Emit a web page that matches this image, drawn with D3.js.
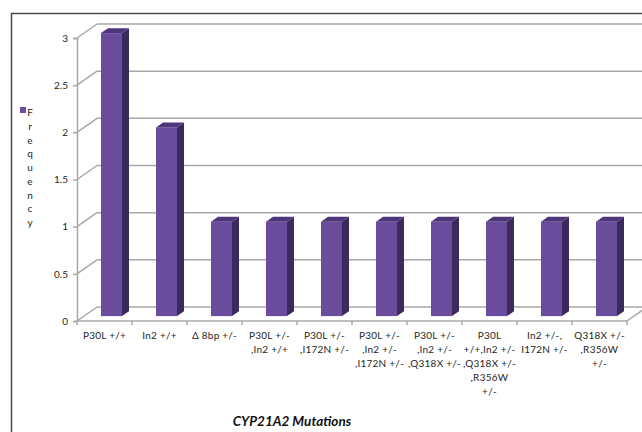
<!DOCTYPE html>
<html>
<head>
<meta charset="utf-8">
<script src="https://cdn.jsdelivr.net/npm/d3@7"></script>
<style>
  html, body { margin: 0; padding: 0; background: #fff; }
  svg { display: block; }
  text { font-family: Lato, "Open Sans", sans-serif; }
</style>
</head>
<body>
<svg id="chart" width="642" height="432"></svg>
<script>
// Mutation categories (multi-line labels) and their frequencies
const categories = [
  ["P30L +/+"],
  ["In2 +/+"],
  ["\u0394 8bp +/-"],
  ["P30L +/-", ",In2 +/+"],
  ["P30L +/-", ",I172N  +/-"],
  ["P30L +/-", ",In2 +/-", ",I172N +/-"],
  ["P30L +/-", ",In2 +/-", ",Q318X +/-"],
  ["P30L", "+/+,In2 +/-", ",Q318X +/-", ",R356W", "+/-"],
  ["In2 +/-,", "I172N +/-"],
  ["Q318X +/-", ",R356W", "+/-"]
];
const frequency = [3, 2, 1, 1, 1, 1, 1, 1, 1, 1];
const yTicks = [0, 0.5, 1, 1.5, 2, 2.5, 3];
const seriesName = "Frequency";
const chartTitle = "CYP21A2 Mutations";

const svg = d3.select("#chart");
const keys = categories.map((c, i) => "c" + i);
const data = keys.map((k, i) => ({ key: k, lines: categories[i], value: frequency[i] }));

// 3D projection of the depth axis: z in [0,1] -> (dx, dy)
const DX = 20, DY = -14;
const zFront = 0.35, zBack = 0.7;

const x = d3.scaleBand().domain(keys).range([77, 627]);
const y = d3.scaleLinear().domain([0, 3]).range([321, 38]);

const purple = "#6a4c9c", purpleSide = "#3c2a5e", purpleTop = "#4d3679";
const gridColor = "#a8a8a8";
const textColor = "#262626";
const labelSize = 10;

// outer chart frame
svg.append("rect")
  .attr("x", 11.5).attr("y", 13.5)
  .attr("width", 700).attr("height", 500)
  .attr("fill", "none").attr("stroke", "#4a4a4a").attr("stroke-width", 1.5);

const grid = svg.append("g").attr("stroke", gridColor).attr("stroke-width", 1.5).attr("fill", "none");

// side-wall diagonals and back-wall gridlines
yTicks.forEach(t => {
  const yy = y(t);
  grid.append("line")
    .attr("x1", x.range()[0]).attr("y1", yy)
    .attr("x2", x.range()[0] + DX).attr("y2", yy + DY);
  grid.append("line")
    .attr("x1", x.range()[0] + DX).attr("y1", yy + DY)
    .attr("x2", x.range()[1] + DX).attr("y2", yy + DY);
});
// floor front edge and right edge
grid.append("line")
  .attr("x1", x.range()[0]).attr("y1", y(0))
  .attr("x2", x.range()[1]).attr("y2", y(0));
grid.append("line")
  .attr("x1", x.range()[1]).attr("y1", y(0))
  .attr("x2", x.range()[1] + DX).attr("y2", y(0) + DY);

// value axis (front)
const yAxis = d3.axisLeft(y).tickValues(yTicks).tickSize(4).tickPadding(5)
  .tickFormat(d3.format("~g"));
const gy = svg.append("g").attr("transform", `translate(${x.range()[0]},0)`).call(yAxis);
gy.select(".domain").attr("stroke", gridColor).attr("stroke-width", 1.5);
gy.selectAll(".tick line").attr("stroke", gridColor).attr("stroke-width", 1.5);
gy.selectAll(".tick text").attr("font-size", labelSize).attr("fill", textColor)
  .attr("font-family", "Lato, sans-serif");

// category axis ticks
const gx = svg.append("g");
const bounds = keys.map(k => x(k)).concat([x.range()[1]]);
gx.selectAll("line").data(bounds).join("line")
  .attr("x1", d => d).attr("x2", d => d)
  .attr("y1", y(0)).attr("y2", y(0) + 4)
  .attr("stroke", gridColor).attr("stroke-width", 1.5);

// category labels
const labels = svg.append("g").attr("font-size", labelSize).attr("fill", textColor)
  .attr("text-anchor", "middle").attr("letter-spacing", 0.25);
data.forEach(d => {
  const t = labels.append("text")
    .attr("x", x(d.key) + x.bandwidth() / 2)
    .attr("y", y(0) + 18);
  d.lines.forEach((ln, i) => {
    t.append("tspan")
      .attr("x", x(d.key) + x.bandwidth() / 2)
      .attr("dy", i === 0 ? 0 : 14)
      .text(ln);
  });
});

// 3D columns
const barW = 21;
const depthW = (zBack - zFront) * DX, depthH = (zBack - zFront) * DY;
const bars = svg.append("g");
data.forEach(d => {
  const x0 = x(d.key) + (x.bandwidth() - barW) / 2 + zFront * DX;
  const top = y(d.value) + zFront * DY;
  const bot = y(0) + zFront * DY;
  const g = bars.append("g");
  g.append("rect")
    .attr("x", x0).attr("y", top).attr("width", barW).attr("height", bot - top)
    .attr("fill", purple);
  g.append("polygon")
    .attr("points", [[x0 + barW, top], [x0 + barW + depthW, top + depthH],
                     [x0 + barW + depthW, bot + depthH], [x0 + barW, bot]].join(" "))
    .attr("fill", purpleSide);
  g.append("polygon")
    .attr("points", [[x0, top], [x0 + depthW, top + depthH],
                     [x0 + barW + depthW, top + depthH], [x0 + barW, top]].join(" "))
    .attr("fill", purpleTop);
});

// legend: marker with the series name stacked letter by letter
const legend = svg.append("g");
legend.append("rect").attr("x", 20).attr("y", 107).attr("width", 6).attr("height", 6).attr("fill", purple);
legend.selectAll("text").data(seriesName.split("")).join("text")
  .attr("x", 30).attr("y", (d, i) => 116 + i * 13.75)
  .attr("text-anchor", "middle")
  .attr("font-size", labelSize).attr("fill", textColor)
  .text(d => d);

// axis title
svg.append("text")
  .attr("x", 292).attr("y", 426)
  .attr("text-anchor", "middle")
  .attr("font-size", 13.5).attr("font-weight", "bold").attr("font-style", "italic")
  .attr("fill", "#111")
  .text(chartTitle);
</script>
</body>
</html>
